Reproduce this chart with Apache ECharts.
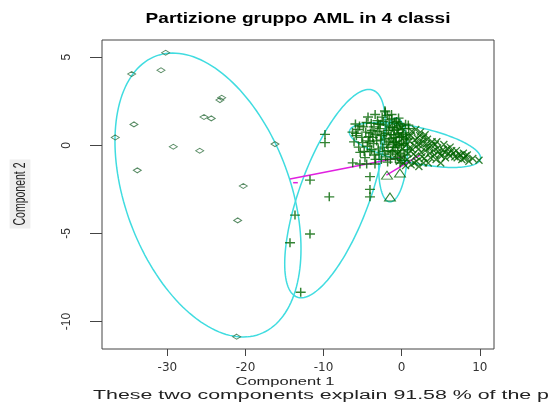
<!DOCTYPE html>
<html><head><meta charset="utf-8">
<script src="https://cdn.jsdelivr.net/npm/echarts@6/dist/echarts.min.js"></script>
<style>html,body{margin:0;padding:0;background:#fff}#c{width:548px;height:407px}</style>
</head><body><div id="c"></div>
<script>
// ---------- texts ----------
const titleText = 'Partizione gruppo AML in 4 classi';
const xTitle = 'Component 1';
const yTitle = 'Component 2';
const subText = 'These two components explain 91.58 % of the point variability.';
// ---------- ticks ----------
const xTicks = [-30, -20, -10, 0, 10];
const yTicks = [-10, -5, 0, 5];
// ---------- cluster 1 (diamonds) ----------
const cluster1 = [
  [-30.22, 5.26], [-34.57, 4.05], [-30.82, 4.26], [-23.05, 2.70], [-23.27, 2.57],
  [-25.31, 1.61], [-24.38, 1.53], [-34.28, 1.19], [-36.67, 0.45], [-29.24, -0.08],
  [-25.86, -0.31], [-16.22, 0.07], [-33.85, -1.42], [-20.28, -2.31], [-21.00, -4.26],
  [-21.13, -10.86]
];
// ---------- cluster 2 (triangles) ----------
const cluster2 = [
  [-0.86, 1.25], [-1.88, -1.69], [-0.22, -1.57], [-1.50, -2.93], [-0.9, -0.2], [-1.3, 0.1]
];
// ---------- cluster 3 (plus) ----------
const cluster3 = [
  [-2.14, 1.96], [-4.31, 1.61], [-5.92, 1.21], [-3.00, 1.21], [-9.82, 0.62], [-9.82, 0.15],
  [-5.85, 0.68], [-4.06, 0.20], [-4.06, -0.36], [-6.27, -0.99], [-5.34, -1.06], [-4.48, -1.06],
  [-3.42, -1.06], [-11.74, -1.97], [-4.06, -1.78], [-4.06, -2.50], [-9.27, -2.92], [-4.06, -2.92],
  [-13.66, -3.96], [-11.74, -5.03], [-14.30, -5.53], [-12.93, -8.34],
  [-5.6, 0.9], [-5.1, 0.45], [-4.9, 1.05], [-4.6, 0.75], [-4.4, -0.05], [-4.2, 0.5], [-3.9, 1.25],
  [-3.8, 0.85], [-3.6, 0.1], [-3.5, -0.55], [-3.3, 0.6], [-3.1, 1.4], [-3.0, -0.2], [-2.8, 0.95],
  [-2.7, 0.3], [-2.6, -0.8], [-2.5, 1.6], [-2.3, 0.65], [-2.2, -0.35], [-2.0, 1.15], [-1.9, 0.05],
  [-1.8, -0.95], [-1.7, 0.85], [-1.6, 1.45], [-1.5, 0.4], [-1.4, -0.5], [-1.2, 1.0], [-1.1, -0.1],
  [-1.0, 0.6], [-0.9, 1.3], [-0.8, -0.75], [-0.7, 0.2], [-0.6, 0.9], [-0.5, -0.3], [-0.4, 1.55],
  [-0.3, 0.45], [-0.2, -1.0], [-0.1, 1.1], [0.0, 0.0], [0.2, 0.7], [0.3, -0.55], [0.5, 1.2],
  [-5.3, -0.4], [-6.1, 0.2], [-4.7, -0.7], [-3.4, 1.75], [-2.1, 1.9], [-1.3, 1.75], [0.6, 0.35], [0.9, 0.95],
  [-5.8, 0.55], [-5.4, 1.1], [-5.0, 0.15], [-4.8, -0.35], [-4.5, 1.3], [-4.3, 0.25], [-4.0, 0.7],
  [-3.85, -0.25], [-3.7, 0.45], [-3.55, 1.05], [-3.35, -0.8], [-3.2, 0.25], [-3.05, 0.8], [-2.9, -0.5],
  [-2.75, 1.2], [-2.6, 0.55], [-2.45, -0.1], [-2.35, 1.35], [-2.15, 0.35], [-2.05, -0.65], [-1.95, 0.7],
  [-1.85, 1.7], [-1.75, -0.3], [-1.65, 0.2], [-1.55, 1.05], [-1.45, -0.8], [-1.35, 0.6], [-1.25, 1.5],
  [-1.15, -0.35], [-1.05, 0.15], [-0.95, 0.85], [-0.85, -0.1], [-0.75, 0.45], [-0.65, 1.35], [-0.55, -0.65],
  [-0.45, 0.7], [-0.35, 0.05], [-0.25, 1.25], [-0.15, -0.45], [-0.05, 0.5], [0.1, 0.95], [0.25, 0.1],
  [0.4, -0.85], [0.55, 0.6], [0.75, -0.25], [0.85, 1.15], [-6.3, 0.75], [-5.5, -0.1]
];
// ---------- cluster 4 (x) ----------
const cluster4 = [
  [-1.0, 0.3], [-0.6, -0.5], [-0.2, 0.6], [0.1, -0.2], [0.4, 0.2], [0.7, -0.8], [0.9, 0.5],
  [1.1, -0.1], [1.3, 0.8], [1.5, -0.5], [1.7, 0.3], [1.9, -0.9], [2.1, 0.05], [2.3, 0.55],
  [2.5, -0.4], [2.7, 0.2], [2.9, -0.75], [3.1, -0.1], [3.3, 0.35], [3.6, -0.45], [3.8, 0.0],
  [4.1, -0.3], [4.4, -0.8], [4.6, -0.15], [4.9, -0.5], [5.3, -0.25], [5.6, -0.7], [6.0, -0.45],
  [6.4, -0.3], [6.8, -0.65], [7.3, -0.5], [7.7, -0.8], [8.2, -0.6], [8.6, -0.9], [9.1, -0.75],
  [9.9, -0.85], [0.0, 1.0], [-0.8, 1.1], [0.5, -1.15], [1.2, -1.1], [2.2, -1.2], [3.4, -1.0],
  [5.0, -1.0], [1.8, 0.9], [2.4, 0.75], [3.0, 0.6], [4.5, 0.2], [5.4, 0.05], [6.2, -0.1], [7.0, -0.3], [7.9, -0.45],
  [-0.4, 0.15], [0.0, -0.7], [0.3, 0.45], [0.6, 0.0], [0.8, -0.45], [1.0, 0.25], [1.2, 0.55],
  [1.4, -0.25], [1.6, 0.0], [1.8, -0.6], [2.0, 0.4], [2.2, -0.2], [2.4, 0.1], [2.6, -0.65],
  [2.8, 0.45], [3.0, -0.3], [3.2, 0.1], [3.5, -0.15], [3.7, -0.7], [3.9, 0.2], [4.2, -0.55],
  [4.3, 0.05], [4.7, -0.35], [5.1, -0.6], [5.5, -0.4], [5.8, -0.2], [6.2, -0.6], [6.6, -0.45],
  [7.1, -0.7], [7.5, -0.55], [8.0, -0.75], [8.4, -0.55], [1.6, -1.0], [2.8, -1.0], [0.2, -1.0], [-0.3, -0.9]
];
// ---------- cluster ellipses: centre, two conjugate semi-diameters (data units) ----------
const ellipses = [
  [-24.80, -2.82, 11.91, -3.05, 0.00, -7.46],
  [-8.54, -2.74, 4.86, 5.87, 4.22, -0.69],
  [-1.11, -0.83, 0.38, 2.38, 1.79, 0.00],
  [1.70, 0.02, 8.39, -0.79, -0.48, -1.00]
];
// ---------- segments between clusters ----------
const segments = [
  [-14.3, -1.91, 0.47, -0.63],
  [-1.96, -1.69, 2.34, -0.55],
  [-13.9, -2.12, -13.3, -2.12]
];

const green = '#006400';
const chart = echarts.init(document.getElementById('c'), null, {renderer: 'canvas'});
const txtFont = 'Liberation Sans, Arial, sans-serif';

function pts(name, data, symbol, size, bw, col) {
  return {
    type: 'scatter', name, data, symbol, symbolSize: size, z: 3, silent: true,
    itemStyle: {color: 'none', borderColor: col || green, borderWidth: bw}
  };
}

chart.setOption({
  animation: false,
  backgroundColor: '#fff',
  grid: {left: 102, right: 54, top: 40, bottom: 58, show: true, borderColor: '#444', borderWidth: 1, backgroundColor: 'transparent'},
  xAxis: {
    type: 'value', min: -38.37, max: 11.82,
    axisLine: {show: false, onZero: false},
    splitLine: {show: false},
    axisTick: {show: true, customValues: xTicks, length: 7, lineStyle: {color: '#444'}},
    axisLabel: {customValues: xTicks, margin: 13, fontSize: 12, color: '#333', fontFamily: 'DejaVu Sans'}
  },
  yAxis: {
    type: 'value', min: -11.56, max: 5.98,
    axisLine: {show: false, onZero: false},
    splitLine: {show: false},
    axisTick: {show: true, customValues: yTicks, length: 12, lineStyle: {color: '#444'}},
    axisLabel: {customValues: yTicks, rotate: 90, margin: 29, fontSize: 12, color: '#333', fontFamily: txtFont}
  },
  graphic: [
    {type: 'text', x: 298, y: 19, scaleX: 1.27, silent: true,
     style: {text: titleText, font: 'bold 15px ' + txtFont, fill: '#000', align: 'center', verticalAlign: 'middle'}},
    {type: 'text', x: 285, y: 382, scaleX: 1.5, silent: true,
     style: {text: xTitle, font: '11px ' + txtFont, fill: '#222', align: 'center', verticalAlign: 'middle'}},
    {type: 'text', x: 93, y: 396, scaleX: 1.78, silent: true,
     style: {text: subText, font: '12px ' + txtFont, fill: '#222', align: 'left', verticalAlign: 'middle'}},
    {type: 'text', x: 20, y: 194, rotation: Math.PI / 2, scaleY: 1.6, silent: true,
     style: {text: yTitle, font: '10.5px ' + txtFont, fill: '#222', align: 'center', verticalAlign: 'middle',
             backgroundColor: '#eeeeee', padding: [1, 3]}}
  ],
  series: [
    {
      type: 'custom', name: 'ellipses', data: ellipses, silent: true, z: 1,
      encode: {x: 0, y: 1},
      renderItem: function (params, api) {
        const cx = api.value(0), cy = api.value(1), ux = api.value(2), uy = api.value(3), vx = api.value(4), vy = api.value(5);
        const p = [];
        for (let i = 0; i <= 160; i++) {
          const t = i / 160 * Math.PI * 2;
          p.push(api.coord([cx + Math.cos(t) * ux + Math.sin(t) * vx, cy + Math.cos(t) * uy + Math.sin(t) * vy]));
        }
        return {type: 'polyline', shape: {points: p}, style: {stroke: '#40dce0', fill: null, lineWidth: 1.5}};
      }
    },
    {
      type: 'custom', name: 'segments', data: segments, silent: true, z: 2,
      encode: {x: [0, 2], y: [1, 3]},
      renderItem: function (params, api) {
        const a = api.coord([api.value(0), api.value(1)]);
        const b = api.coord([api.value(2), api.value(3)]);
        return {type: 'line', shape: {x1: a[0], y1: a[1], x2: b[0], y2: b[1]}, style: {stroke: '#e020e0', lineWidth: 1.5}};
      }
    },
    pts('c1', cluster1, 'diamond', [8, 5], 1, '#2f6f3f'),
    pts('c2', cluster2, 'triangle', [11, 8], 1),
    pts('c3', cluster3, 'path://M0,5L10,5M5,0L5,10', [10, 9], 1.4),
    pts('c4', cluster4, 'path://M0,0L10,10M10,0L0,10', [7, 7], 1.3)
  ]
});
</script>
</body></html>
